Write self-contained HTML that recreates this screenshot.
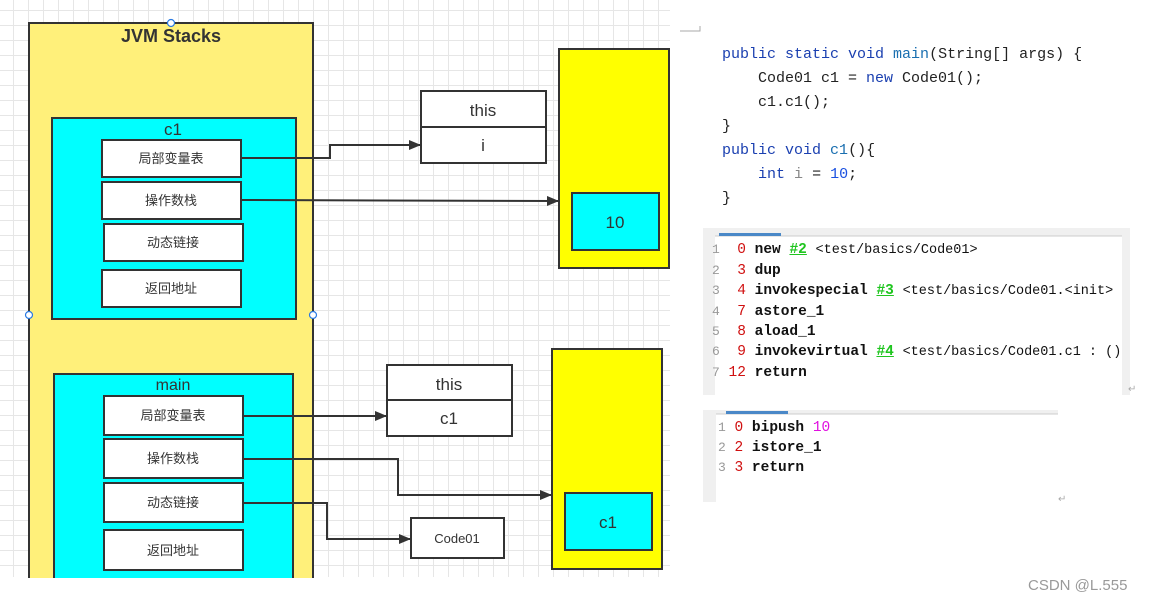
<!DOCTYPE html>
<html><head><meta charset="utf-8"><style>
body{margin:0;width:1161px;height:601px;overflow:hidden;background:#fff;position:relative;font-family:"Liberation Sans","Noto Sans CJK SC",sans-serif}
.grid{position:absolute;left:0;top:0;width:670px;height:577px;
background-image:linear-gradient(#e6e6e6 1px,transparent 1px),linear-gradient(90deg,#e6e6e6 1px,transparent 1px);
background-size:15px 15px;background-position:13px 10px}
svg{position:absolute;left:0;top:0}
.code{position:absolute;font-family:"Liberation Mono",monospace;font-size:15px;white-space:pre;line-height:24px;color:#222}
.bc{position:absolute;font-family:"Liberation Mono",monospace;font-size:14.5px;white-space:pre;line-height:20px;font-weight:bold;color:#111}
.ln{color:#999;font-weight:normal;font-size:13px}
.r{color:#d01010;font-weight:normal}
.g{color:#1fc51f;text-decoration:underline}
.n{font-weight:normal;font-size:13.5px}
.k{color:#1a3fb0}
</style></head><body>
<div class="grid"></div>
<svg width="1161" height="601" font-family="Liberation Sans, Noto Sans CJK SC, sans-serif">
<defs><marker id="a" markerWidth="12" markerHeight="10" refX="12" refY="5" orient="auto" markerUnits="userSpaceOnUse"><path d="M0,0L12,5L0,10z" fill="#333"/></marker></defs>
<g stroke="#333" stroke-width="2">
<path d="M29,578V23H313V578" fill="#fff07a"/>
<rect x="52" y="118" width="244" height="201" fill="#00ffff"/>
<rect x="102" y="140" width="139" height="37" fill="#fff"/>
<rect x="102" y="182" width="139" height="37" fill="#fff"/>
<rect x="104" y="224" width="139" height="37" fill="#fff"/>
<rect x="102" y="270" width="139" height="37" fill="#fff"/>
<path d="M54,578V374H293V578" fill="#00ffff"/>
<rect x="104" y="396" width="139" height="39" fill="#fff"/>
<rect x="104" y="439" width="139" height="39" fill="#fff"/>
<rect x="104" y="483" width="139" height="39" fill="#fff"/>
<rect x="104" y="530" width="139" height="40" fill="#fff"/>
<rect x="421" y="91" width="125" height="72" fill="#fff"/><path d="M421,127H546"/>
<rect x="559" y="49" width="110" height="219" fill="#ffff00"/>
<rect x="572" y="193" width="87" height="57" fill="#00ffff"/>
<rect x="387" y="365" width="125" height="71" fill="#fff"/><path d="M387,400H512"/>
<rect x="552" y="349" width="110" height="220" fill="#ffff00"/>
<rect x="565" y="493" width="87" height="57" fill="#00ffff"/>
<rect x="411" y="518" width="93" height="40" fill="#fff"/>
<g fill="none" marker-end="url(#a)">
<path d="M241,158H330V145H421"/>
<path d="M241,200L559,201"/>
<path d="M243,416H387"/>
<path d="M243,459H398V495H552"/>
<path d="M243,503H327V539H411"/>
</g></g>
<g fill="#fff" stroke="#2a7ae2" stroke-width="1.2"><circle cx="171" cy="23" r="3.5"/><circle cx="29" cy="315" r="3.5"/><circle cx="313" cy="315" r="3.5"/></g>
<g fill="#333" text-anchor="middle">
<text x="171" y="42" font-size="18" font-weight="bold">JVM Stacks</text>
<text x="173" y="135" font-size="17">c1</text>
<text x="173" y="390" font-size="16">main</text>
<g font-size="13"><text x="171" y="163">局部变量表</text><text x="171" y="205">操作数栈</text><text x="173" y="247">动态链接</text><text x="171" y="293">返回地址</text>
<text x="173" y="420">局部变量表</text><text x="173" y="463">操作数栈</text><text x="173" y="507">动态链接</text><text x="173" y="555">返回地址</text></g>
<g font-size="17"><text x="483" y="116">this</text><text x="483" y="151">i</text><text x="449" y="390">this</text><text x="449" y="424">c1</text><text x="615" y="228">10</text><text x="608" y="528">c1</text></g>
<text x="457" y="543" font-size="13">Code01</text>
</g>
<path d="M680,31H700V26" stroke="#aaa" fill="none"/>
<rect x="703" y="228" width="427" height="167" fill="#f0f0f0"/>
<rect x="715" y="236" width="407" height="159" fill="#fff"/>
<path d="M715,236H1122" stroke="#ccc"/>
<rect x="719" y="233" width="62" height="3" fill="#4a88c7"/>
<rect x="703" y="410" width="355" height="92" fill="#f0f0f0"/>
<rect x="716" y="414" width="342" height="88" fill="#fff"/>
<path d="M716,414H1058" stroke="#ccc"/>
<rect x="726" y="411" width="62" height="3" fill="#4a88c7"/>
<text x="1128" y="392" font-size="10" fill="#aaa">↵</text>
<text x="1058" y="502" font-size="10" fill="#aaa">↵</text>
<text x="1028" y="590" font-size="15" fill="#999">CSDN @L.555</text>
</svg>
<div class="code" style="left:722px;top:43px"><span class="k">public static void</span> <span style="color:#1a6fb0">main</span>(String[] args) {
    Code01 c1 = <span class="k">new</span> Code01();
    c1.c1();
}
<span class="k">public void</span> <span style="color:#1a6fb0">c1</span>(){
    <span class="k">int</span> <span style="color:#888">i</span> = <span style="color:#1a50e0">10</span>;
}</div>
<div class="bc" style="left:712px;top:240px"><span class="ln">1</span>  <span class="r">0</span> new <span class="g">#2</span> <span class="n">&lt;test/basics/Code01&gt;</span>
<span class="ln">2</span>  <span class="r">3</span> dup
<span class="ln">3</span>  <span class="r">4</span> invokespecial <span class="g">#3</span> <span class="n">&lt;test/basics/Code01.&lt;init&gt;</span>
<span class="ln">4</span>  <span class="r">7</span> astore_1
<span class="ln">5</span>  <span class="r">8</span> aload_1
<span class="ln">6</span>  <span class="r">9</span> invokevirtual <span class="g">#4</span> <span class="n">&lt;test/basics/Code01.c1 : ()</span>
<span class="ln">7</span> <span class="r">12</span> return</div>
<div class="bc" style="left:718px;top:418px"><span class="ln">1</span> <span class="r">0</span> bipush <span style="color:#e010e0;font-weight:normal">10</span>
<span class="ln">2</span> <span class="r">2</span> istore_1
<span class="ln">3</span> <span class="r">3</span> return</div>
</body></html>
